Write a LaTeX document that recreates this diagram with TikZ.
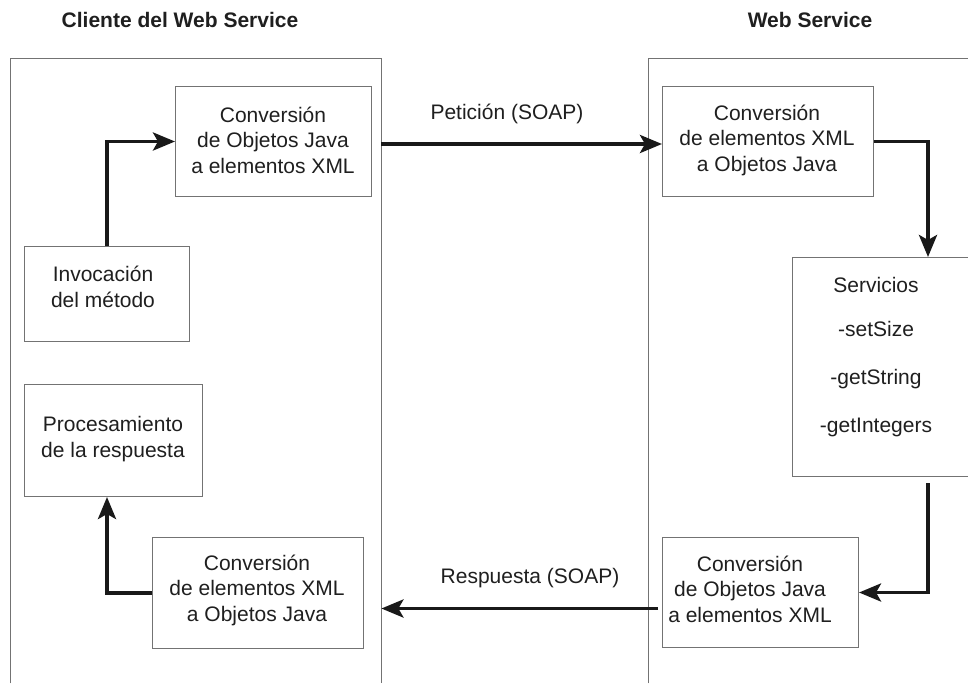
\documentclass[tikz,border=0pt]{standalone}
\usepackage{fontspec}
\setmainfont{Liberation Sans}
\usetikzlibrary{arrows.meta}

\begin{document}
\begin{tikzpicture}[x=1pt, y=-1pt,
  edge/.style={draw=black!55, line width=1pt},
  region/.style={inner sep=0pt, anchor=north west},
  box/.style={edge, inner sep=0pt, anchor=north west},
  txt/.style={inner sep=0pt, align=center, text=black!88,
              font=\fontsize{21}{25.5}\selectfont},
  heading/.style={txt, font=\fontsize{21}{25.5}\selectfont\bfseries},
  flow/.style={draw=black!90, line width=3.8pt, line join=miter,
               -{Stealth[length=22pt, width=18pt, inset=5pt]}},
]
\useasboundingbox[fill=white] (0,0) rectangle (968,683);

% Headings
\node[heading] (hcli) at (180,20) {Cliente del Web Service};
\node[heading] (hsrv) at (810,20) {Web Service};

% Client and server regions (open at the bottom / right)
\node[region, minimum width=371pt, minimum height=625pt] (cli) at (10,58) {};
\node[region, minimum width=320pt, minimum height=625pt] (srv) at (648,58) {};
\draw[edge] (cli.south west) -- (cli.north west) -- (cli.north east) -- (cli.south east);
\draw[edge] (srv.south west) -- (srv.north west) -- (srv.north east);

% Client side boxes
\node[box, minimum width=196pt, minimum height=110pt] (convA) at (175,86) {};
\node[txt] (convAt) at (273,140) {Conversión\\de Objetos Java\\a elementos XML};

\node[box, minimum width=165pt, minimum height=95pt] (inv) at (24,246) {};
\node[txt] (invt) at (103,287) {Invocación\\del método};

\node[box, minimum width=178pt, minimum height=112pt] (proc) at (24,384) {};
\node[txt] (proct) at (113,439) {Procesamiento\\de la respuesta};

\node[box, minimum width=211pt, minimum height=111pt] (convC) at (152,537) {};
\node[txt] (convCt) at (257,590) {Conversión\\de elementos XML\\a Objetos Java};

% Server side boxes
\node[box, minimum width=211pt, minimum height=110pt] (convB) at (662,86) {};
\node[txt] (convBt) at (767,140) {Conversión\\de elementos XML\\a Objetos Java};

\node[region, minimum width=176pt, minimum height=219pt] (serv) at (792,257) {};
\draw[edge] (serv.north east) -- (serv.north west) -- (serv.south west) -- (serv.south east);
\node[txt] (servt) at (876,357)
  {Servicios\\[18pt]-setSize\\[22.5pt]-getString\\[22.5pt]-getIntegers};

\node[box, minimum width=196pt, minimum height=110pt] (convD) at (662,537) {};
\node[txt] (convDt) at (750,589) {Conversión\\de Objetos Java\\a elementos XML};

% Message labels
\node[txt] (lpet) at (507,114) {Petición (SOAP)};
\node[txt] (lres) at (530,578) {Respuesta (SOAP)};

% Guide coordinates for the vertical runs and message levels
\coordinate (colL) at (107,0);
\coordinate (colR) at (928,0);
\coordinate (petY) at (0,144);
\coordinate (servOut) at (928,483);
\coordinate (resStart) at ([yshift=-16pt]convD.west);

% Connectors
\draw[flow] (inv.north -| colL) |- (convA.west);
\draw[flow] (cli.east |- petY) -- (convB.west |- petY);
\draw[flow] (convB.east) -| (colR |- serv.north);
\draw[flow] (servOut) |- (convD.east);
\draw[flow] ([xshift=-4pt]resStart) -- (resStart -| cli.east);
\draw[flow] (convC.west) -| (colL |- proc.south);
\end{tikzpicture}
\end{document}
